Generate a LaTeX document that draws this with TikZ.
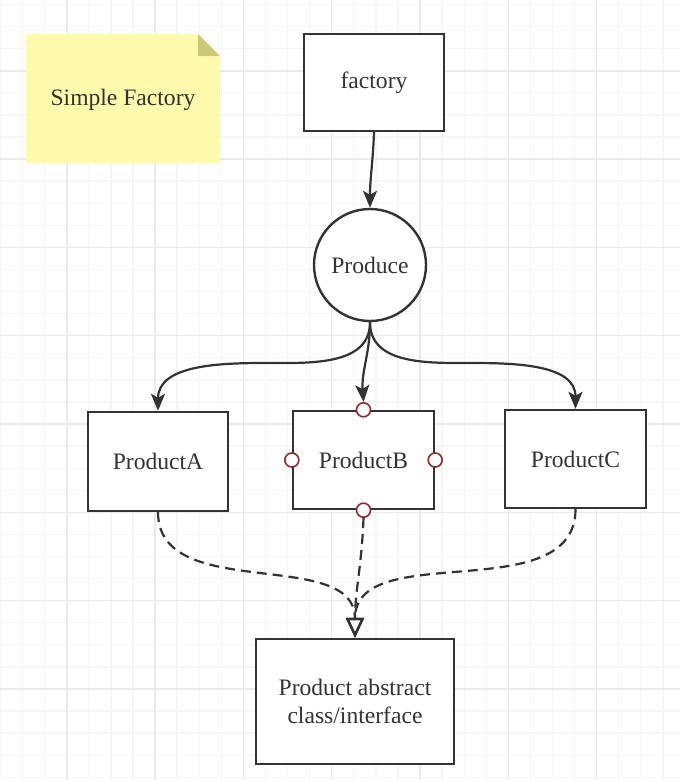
\documentclass[tikz,border=0pt]{standalone}
\usepackage{fontspec}
\setmainfont{Liberation Serif}
\usetikzlibrary{arrows.meta,positioning}

\definecolor{ink}{HTML}{333333}
\definecolor{notefill}{RGB}{255,250,172}
\definecolor{notefold}{RGB}{205,199,122}
\definecolor{portred}{RGB}{140,45,45}
\definecolor{gridminor}{RGB}{245,245,245}
\definecolor{gridmajor}{RGB}{234,234,234}

\tikzset{
  classbox/.style={draw=ink, line width=2.4pt, fill=white, inner sep=0pt, text=ink, align=center},
  port/.style={circle, draw=portred, line width=1.6pt, fill=white, minimum size=14pt, inner sep=0pt},
  flow/.style={draw=ink, line width=2.2pt, -{Stealth[length=17pt,width=14pt,inset=4pt]}},
  realize/.style={draw=ink, line width=2.2pt, dash pattern=on 10pt off 6pt, -{Triangle[open,length=20pt,width=18pt]}},
}

\begin{document}
\begin{tikzpicture}[x=1pt, y=-1pt, font=\fontsize{23.6}{28}\selectfont]
\useasboundingbox (0,0) rectangle (680,780);
\fill[white] (0,0) rectangle (680,780);
% grid
\begin{scope}
\clip (0,0) rectangle (680,780);
\foreach \i in {0,...,30} {
  \draw[gridminor, line width=1.3pt] ({0.5+22.08*\i},0) -- ++(0,780);
}
\foreach \j in {0,...,35} {
  \draw[gridminor, line width=1.3pt] (0,{4.5+22.08*\j}) -- ++(680,0);
}
\foreach \i in {0,...,7} {
  \draw[gridmajor, line width=1.6pt] ({66.7+88.32*\i},0) -- ++(0,780);
  \draw[gridmajor, line width=1.6pt] (0,{70.7+88.32*\i}) -- ++(680,0);
}
\end{scope}

% sticky note
\fill[notefill] (26,34) -- (198,34) -- (220,56) -- (220,163) -- (26,163) -- cycle;
\fill[notefold] (198,34) -- (220,56) -- (198,56) -- cycle;
\node[text=ink] (note) at (123,100) {Simple Factory};

% classes
\node[classbox, minimum width=140pt, minimum height=97pt] (factory) at (374,82.5) {factory};
\node[classbox, circle, minimum size=112pt] (produce) at (370,265) {Produce};
\node[classbox, minimum width=140pt, minimum height=99pt] (prodA) at (158,461.5) {ProductA};
\node[classbox, minimum width=141pt, minimum height=98pt] (prodB) at (363.5,460) {ProductB};
\node[classbox, minimum width=141pt, minimum height=98pt] (prodC) at (575.5,459) {ProductC};
\node[classbox, minimum width=198pt, minimum height=125pt] (absprod) at (355,701.5) {Product abstract\\class/interface};

% ports of ProductB
\node[port] (portN) at (prodB.north) {};
\node[port] (portS) at (prodB.south) {};
\node[port] (portW) at (prodB.west) {};
\node[port] (portE) at (prodB.east) {};

% solid connectors
\draw[flow] (factory.south) to[out=-92,in=90] (produce.north);
\draw[flow] (produce.south) to[out=-90,in=0] (265,363) to[out=180,in=90] (prodA.north);
\draw[flow] (produce.south) to[out=-90,in=180] (472,363) to[out=0,in=90] (prodC.north);
\draw[flow] (produce.south) to[out=-90,in=94] (portN.north);

% dashed realisation
\draw[realize] (prodA.south) to[out=-90,in=90] (absprod.north);
\draw[realize] (portS.south) to[out=-92,in=90] (absprod.north);
\draw[realize] (prodC.south) to[out=-90,in=90] (absprod.north);
\end{tikzpicture}
\end{document}
